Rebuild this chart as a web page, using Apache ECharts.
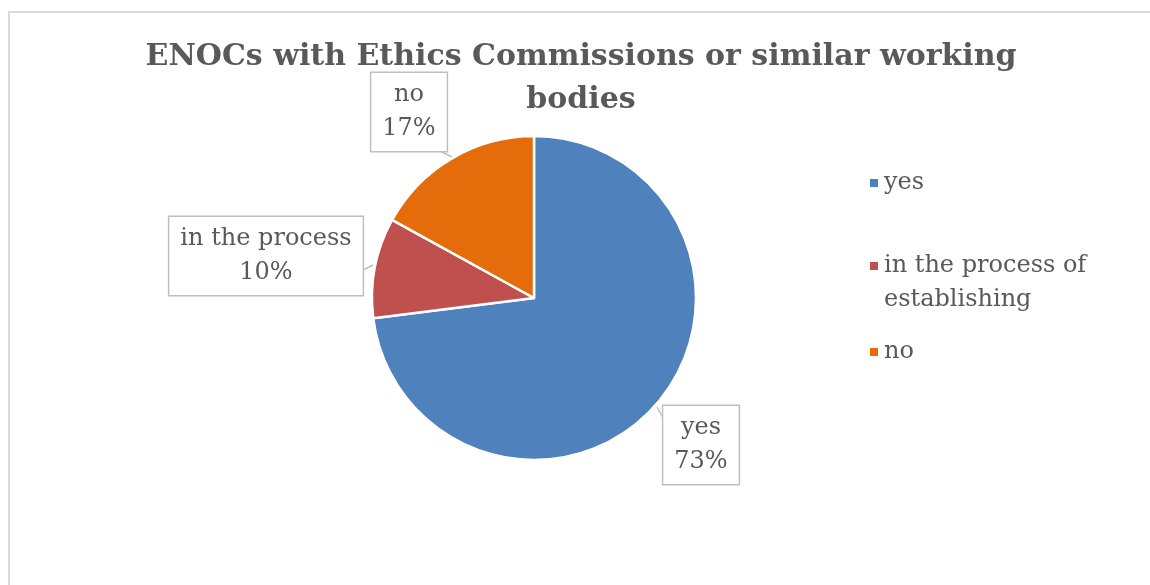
<!DOCTYPE html>
<html>
<head>
<meta charset="utf-8">
<script src="https://cdn.jsdelivr.net/npm/echarts@6/dist/echarts.min.js"></script>
<style>html,body{margin:0;padding:0;background:#fff;}#c{width:1150px;height:585px;}</style>
</head>
<body>
<div id="c"></div>
<script>
const categories = ['yes', 'in the process of establishing', 'no'];
const labelNames = ['yes', 'in the process', 'no'];
const legendNames = ['yes', '\nin the process of\nestablishing', 'no'];
const values = [73, 10, 17];
const colors = ['#4f81bd', '#c0504d', '#e46c0a'];
const titleText = 'ENOCs with Ethics Commissions or similar working\nbodies';

const FONT = 'DejaVu Serif';
const TXT = '#595959';
const cx = 534, cy = 298, R = 162;
// label box centres, offsets from pie centre
const labelOffsets = [[167, 147], [-268, -42], [-125, -186]];
// tail: rim point & box-edge point, offsets from pie centre
const tailEnds = [[[123, 109], [129, 120]], [[-161, -33], [-171, -28]], [[-82, -141], [-94, -147]]];

const chart = echarts.init(document.getElementById('c'));
const legendBase = {
  orient: 'vertical', left: 868, padding: 0, itemWidth: 10, itemHeight: 10,
  icon: 'rect', selectedMode: false,
  textStyle: { fontFamily: FONT, fontSize: 24, lineHeight: 34, color: TXT },
  formatter: n => legendNames[categories.indexOf(n)]
};
chart.setOption({
  animation: false,
  color: colors,
  title: {
    text: titleText, left: 581, textAlign: 'center', top: 36, padding: 0,
    textStyle: { fontFamily: FONT, fontWeight: 'bold', fontSize: 30, lineHeight: 43, color: TXT }
  },
  legend: [
    Object.assign({}, legendBase, { top: 166, data: [categories[0]] }),
    Object.assign({}, legendBase, { top: 215, data: [categories[1]] }),
    Object.assign({}, legendBase, { top: 335, data: [categories[2]] })
  ],
  graphic: [
    { type: 'line', shape: { x1: 8, y1: 12, x2: 1150, y2: 12 }, style: { stroke: '#d9d9d9', lineWidth: 2 } },
    { type: 'line', shape: { x1: 9, y1: 11, x2: 9, y2: 585 }, style: { stroke: '#d9d9d9', lineWidth: 2 } }
  ],
  series: [{
    type: 'pie',
    center: [cx, cy],
    radius: R,
    startAngle: 90,
    clockwise: true,
    data: categories.map((c, i) => ({ name: c, value: values[i] })),
    itemStyle: { borderColor: '#fff', borderWidth: 2.5 },
    label: {
      show: true,
      formatter: p => labelNames[p.dataIndex] + '\n' + p.percent.toFixed(0) + '%',
      fontFamily: FONT, fontSize: 24, lineHeight: 34, color: TXT,
      backgroundColor: '#fff', borderColor: '#bfbfbf', borderWidth: 1.5,
      padding: [7, 11, 3, 11], align: 'center'
    },
    labelLine: { show: true, lineStyle: { color: '#bfbfbf', width: 1.5 }, smooth: false },
    labelLayout: p => {
      const i = p.dataIndex;
      const o = labelOffsets[i], t = tailEnds[i];
      const a = [cx + t[0][0], cy + t[0][1]], b = [cx + t[1][0], cy + t[1][1]];
      return {
        x: cx + o[0], y: cy + o[1], align: 'center', verticalAlign: 'middle',
        labelLinePoints: [a, [(a[0] + b[0]) / 2, (a[1] + b[1]) / 2], b]
      };
    },
    emphasis: { disabled: true }
  }]
});
</script>
</body>
</html>
